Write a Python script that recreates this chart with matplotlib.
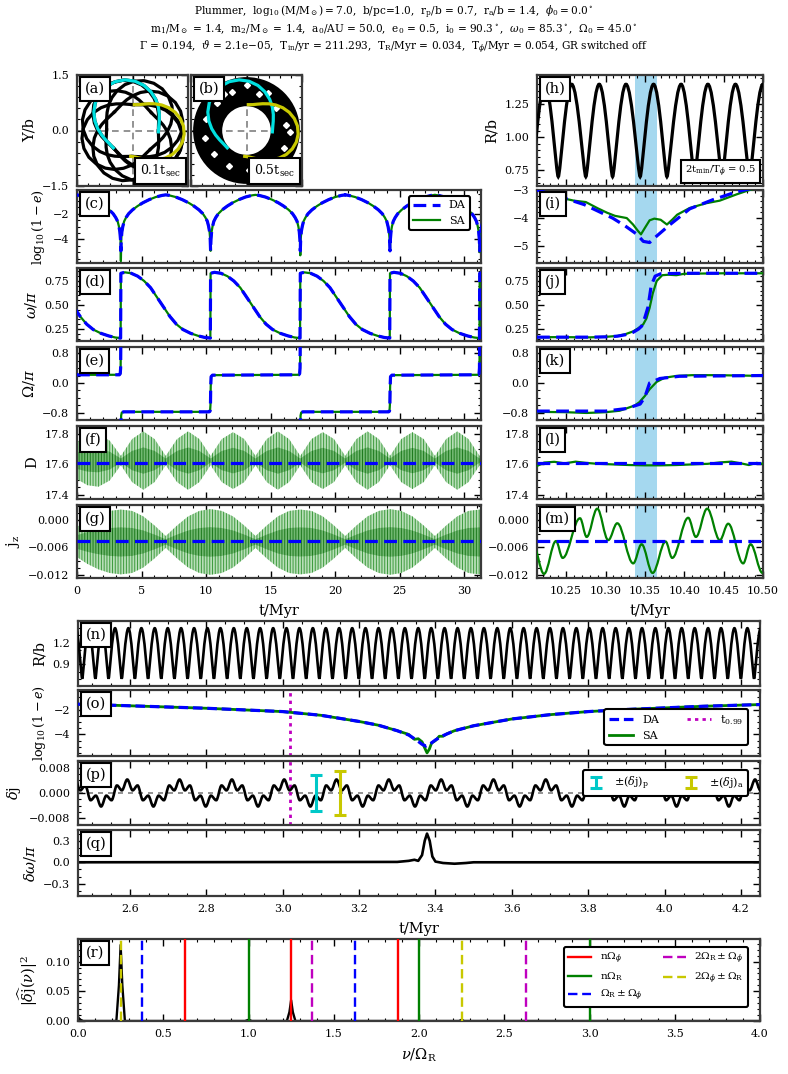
import numpy as np
import matplotlib
matplotlib.use("Agg")
import matplotlib.pyplot as plt
from matplotlib.path import Path
from matplotlib.patches import PathPatch, Wedge
from matplotlib.projections.polar import PolarAxes
from matplotlib.ticker import FixedLocator, AutoMinorLocator, FuncFormatter

plt.rcParams['font.family'] = ['DejaVu Serif']
plt.rcParams['mathtext.fontset'] = 'dejavuserif'
plt.rcParams['hatch.linewidth'] = 0.7

# ---------------- values ----------------
# (a)/(b): one radial period of the orbit, r(psi) with psi = azimuth past pericentre (deg)
orbit_psi = [0, 11.25, 22.5, 33.75, 45, 56.25, 67.5, 78.75, 90, 101.25, 112.5,
             123.75, 135, 146.25, 157.5, 168.75, 180, 191.25, 202.5, 213.75, 225]
orbit_r = [0.70, 0.717, 0.767, 0.844, 0.942, 1.05, 1.158, 1.256, 1.333, 1.383, 1.40,
           1.383, 1.333, 1.256, 1.158, 1.05, 0.942, 0.844, 0.767, 0.717, 0.70]
peri_phi_a = [-3.0, 222.4, 447.8, 673.2, 898.6, 1124.0, 1349.4, 1574.8, 1800.2, 2025.6]
cyan_phi0 = -3.0
# yellow arc, azimuth (deg) of each point of the same r-profile, running clockwise
yellow_theta = [86, 77, 68, 59, 50, 41, 32, 23, 14, 5, -4, -13, -22, -31, -40, -49, -58, -67, -76, -85, -94]
r_peri, r_apo = 0.70, 1.40
hole_x = [-0.80, -0.38, 0.33, 0.80, 1.07, 1.00, 0.68, 0.08, -0.48, -0.88, -1.12, -1.10, -0.62, 0.02, 0.58, 1.18]
hole_y = [0.74, 1.04, 0.98, 0.62, 0.15, -0.46, -0.86, -1.06, -0.97, -0.64, -0.20, 0.32, 0.98, 1.22, 1.02, -0.05]

# left column: secular evolution, t in Myr
dip_t = [3.40, 10.35, 17.30, 24.25, 31.20]
dip_da = [-4.9, -4.9, -4.9, -4.9, -4.9]
dip_sa = [-5.7, -4.9, -5.25, -4.9, -5.0]
arch_dt = [0.03, 0.08, 0.15, 0.25, 0.4, 0.6, 0.9, 1.3, 1.7, 2.2, 2.7, 3.2, 3.475]
arch_log1me = [-4.0, -3.4, -3.0, -2.6, -2.3, -2.0, -1.7, -1.4, -1.15, -0.9, -0.7, -0.57, -0.53]

flip_t = [-3.55, 3.40, 10.35, 17.30, 24.25, 31.20]
omega_dt = [0.0, 0.3, 0.8, 1.3, 1.8, 2.3, 2.8, 3.3, 3.8, 4.3, 4.8, 5.4, 6.0, 6.5, 6.93]
omega_val = [0.83, 0.84, 0.83, 0.80, 0.75, 0.68, 0.58, 0.48, 0.38, 0.30, 0.245, 0.205, 0.178, 0.162, 0.155]

node_t = [0.0, 3.28, 3.35, 3.38, 3.40, np.nan, 3.40, 3.42, 3.47, 3.6, 10.25, 10.31, 10.34, 10.36, 10.39, 10.5,
          17.18, 17.25, 17.28, 17.30, np.nan, 17.30, 17.32, 17.37, 17.5, 24.15, 24.21, 24.24, 24.26, 24.29, 24.4,
          31.08, 31.15, 31.18, 31.20]
node_val = [0.22, 0.22, 0.25, 0.40, 1.30, np.nan, -1.30, -0.88, -0.80, -0.78, -0.78, -0.76, -0.60, -0.10, 0.17, 0.21,
            0.22, 0.25, 0.40, 1.30, np.nan, -1.30, -0.88, -0.80, -0.78, -0.78, -0.76, -0.60, -0.10, 0.17, 0.21,
            0.22, 0.25, 0.40, 1.30]

D_da = 17.61
D_sa_mid = 17.625
D_env_t = [0.0, 0.80, 1.66, 2.53, 3.40, 4.27, 5.14, 6.01, 6.88, 7.75, 8.61, 9.48, 10.35, 11.22, 12.09, 12.96,
           13.83, 14.70, 15.56, 16.43, 17.30, 18.17, 19.04, 19.91, 20.78, 21.65, 22.51, 23.38, 24.25, 25.12,
           25.99, 26.86, 27.73, 28.60, 29.46, 30.33, 31.20, 31.30]
D_env_hw = [0.12, 0.16, 0.17, 0.13, 0.03, 0.14, 0.19, 0.14, 0.03, 0.14, 0.19, 0.14, 0.03, 0.14, 0.185, 0.14,
            0.03, 0.14, 0.19, 0.14, 0.03, 0.14, 0.185, 0.14, 0.03, 0.14, 0.19, 0.14, 0.03, 0.14, 0.185, 0.14,
            0.03, 0.14, 0.19, 0.14, 0.03, 0.05]

jz_da = -0.0046
jz_sa_mid = -0.0048
jz_env_t = D_env_t
jz_env_hw = [0.0033, 0.0048, 0.0060, 0.0068, 0.0071, 0.0068, 0.0056, 0.0036, 0.0013, 0.0036, 0.0056, 0.0068,
             0.0072, 0.0068, 0.0056, 0.0036, 0.0013, 0.0036, 0.0056, 0.0068, 0.0071, 0.0068, 0.0056, 0.0036,
             0.0013, 0.0036, 0.0056, 0.0068, 0.0072, 0.0068, 0.0056, 0.0036, 0.0013, 0.0036, 0.0056, 0.0068,
             0.0071, 0.0070]

# right column: zoom on the eccentricity peak
band = (10.337, 10.365)
h_ext_t = [10.206, 10.223, 10.240, 10.257, 10.275, 10.292, 10.309, 10.326, 10.344, 10.361, 10.378,
           10.396, 10.413, 10.430, 10.448, 10.465, 10.483, 10.500, 10.517]
h_ext_R = [0.70, 1.40, 0.70, 1.40, 0.70, 1.40, 0.70, 1.40, 0.70, 1.40, 0.70,
           1.40, 0.70, 1.40, 0.70, 1.40, 0.70, 1.40, 0.70]

i_t_da = [10.213, 10.24, 10.273, 10.309, 10.325, 10.340, 10.348, 10.356, 10.365, 10.382, 10.407, 10.436, 10.467, 10.50]
i_da = [-3.0, -3.22, -3.52, -4.0, -4.28, -4.58, -4.83, -4.87, -4.64, -4.23, -3.67, -3.35, -3.06, -2.85]
i_t_sa = [10.213, 10.242, 10.26, 10.275, 10.29, 10.302, 10.312, 10.327, 10.335, 10.341, 10.345, 10.350,
          10.356, 10.362, 10.370, 10.378, 10.385, 10.391, 10.407, 10.428, 10.445, 10.467, 10.485, 10.50]
i_sa = [-3.0, -3.27, -3.38, -3.43, -3.65, -3.81, -3.92, -4.0, -4.23, -4.45, -4.58, -4.35,
        -4.08, -4.02, -4.06, -4.23, -4.05, -3.88, -3.64, -3.47, -3.38, -3.15, -2.98, -2.9]

j_t_da = [10.213, 10.25, 10.28, 10.30, 10.315, 10.325, 10.335, 10.342, 10.346, 10.350, 10.354, 10.358,
          10.363, 10.370, 10.40, 10.45, 10.50]
j_da = [0.165, 0.165, 0.165, 0.168, 0.175, 0.19, 0.215, 0.25, 0.28, 0.37, 0.48, 0.70, 0.80, 0.825, 0.83, 0.83, 0.83]
j_t_sa = [10.213, 10.25, 10.28, 10.30, 10.315, 10.325, 10.335, 10.342, 10.348, 10.352, 10.356, 10.360,
          10.365, 10.372, 10.38, 10.39, 10.40, 10.45, 10.50]
j_sa = [0.165, 0.165, 0.163, 0.168, 0.178, 0.195, 0.225, 0.26, 0.30, 0.36, 0.47, 0.62, 0.75, 0.81, 0.815,
        0.81, 0.825, 0.83, 0.83]

k_t_da = [10.213, 10.30, 10.327, 10.344, 10.350, 10.356, 10.369, 10.394, 10.50]
k_da = [-0.76, -0.76, -0.69, -0.57, -0.38, 0.0, 0.12, 0.18, 0.20]
k_t_sa = [10.213, 10.25, 10.276, 10.30, 10.318, 10.337, 10.343, 10.350, 10.356, 10.365, 10.375, 10.39,
          10.41, 10.44, 10.50]
k_sa = [-0.78, -0.79, -0.81, -0.79, -0.75, -0.61, -0.52, -0.35, -0.17, 0.03, 0.14, 0.19, 0.21, 0.21, 0.19]

l_t_sa = [10.213, 10.222, 10.235, 10.248, 10.262, 10.275, 10.29, 10.31, 10.33, 10.35, 10.37, 10.39, 10.41,
          10.43, 10.445, 10.46, 10.472, 10.482, 10.492, 10.50]
l_sa = [17.59, 17.612, 17.617, 17.607, 17.618, 17.61, 17.604, 17.60, 17.596, 17.594, 17.594, 17.596, 17.60,
        17.604, 17.613, 17.618, 17.607, 17.596, 17.61, 17.604]

m_ext_t = [10.2078, 10.2219, 10.2371, 10.2456, 10.2676, 10.2761, 10.2895, 10.3035, 10.3149, 10.3352, 10.3458,
           10.3598, 10.3763, 10.3847, 10.4050, 10.4148, 10.4291, 10.4452, 10.4558, 10.4748, 10.4842, 10.4994]
m_ext_jz = [-0.0053, -0.0118, -0.0046, -0.0083, 0.0004, -0.0037, 0.0025, -0.0044, -0.0007, -0.0095, -0.0053,
            -0.0116, -0.0047, -0.0083, 0.0005, -0.0037, 0.0025, -0.0044, -0.0008, -0.0095, -0.0053, -0.0116]

# lower block
n_trough_t = [2.4405, 2.475, 2.5095, 2.544, 2.5785, 2.613, 2.6475, 2.682, 2.7165, 2.751, 2.7855, 2.820, 2.8545,
              2.889, 2.9235, 2.958, 2.9925, 3.027, 3.0615, 3.096, 3.1305, 3.165, 3.1995, 3.234, 3.2685, 3.303,
              3.3375, 3.372, 3.4065, 3.441, 3.4755, 3.510, 3.5445, 3.579, 3.6135, 3.648, 3.6825, 3.717, 3.7515,
              3.786, 3.8205, 3.855, 3.8895, 3.924, 3.9585, 3.993, 4.0275, 4.062, 4.0965, 4.131, 4.1655, 4.200,
              4.2345, 4.269]
n_peak_t = [2.458, 2.492, 2.527, 2.561, 2.596, 2.630, 2.665, 2.699, 2.734, 2.768, 2.803, 2.837, 2.872, 2.906,
            2.941, 2.975, 3.010, 3.044, 3.079, 3.113, 3.148, 3.182, 3.217, 3.251, 3.286, 3.320, 3.355, 3.389,
            3.424, 3.458, 3.493, 3.527, 3.562, 3.596, 3.631, 3.665, 3.700, 3.734, 3.769, 3.803, 3.838, 3.872,
            3.907, 3.941, 3.976, 4.010, 4.045, 4.079, 4.114, 4.148, 4.183, 4.217, 4.252]
R_trough, R_peak = 0.70, 1.40

o_t_da = [2.464, 2.6, 2.8, 3.0, 3.1, 3.2, 3.25, 3.3, 3.33, 3.35, 3.365, 3.375, 3.385, 3.40, 3.42, 3.45, 3.5,
          3.6, 3.7, 3.8, 3.9, 4.0, 4.1, 4.25]
o_da = [-1.55, -1.68, -1.88, -2.15, -2.45, -2.95, -3.25, -3.7, -4.05, -4.45, -4.8, -4.95, -4.8, -4.45, -4.1,
        -3.7, -3.3, -2.75, -2.4, -2.15, -1.98, -1.85, -1.72, -1.58]
o_t_sa = [2.464, 2.6, 2.8, 3.0, 3.1, 3.2, 3.25, 3.3, 3.33, 3.345, 3.355, 3.365, 3.372, 3.378, 3.384, 3.39,
          3.40, 3.41, 3.42, 3.43, 3.45, 3.5, 3.6, 3.7, 3.8, 3.9, 4.0, 4.1, 4.25]
o_sa = [-1.55, -1.68, -1.88, -2.15, -2.45, -2.95, -3.25, -3.7, -4.0, -4.4, -4.35, -4.6, -5.1, -5.5, -5.2,
        -4.7, -4.5, -4.15, -4.15, -3.95, -3.7, -3.3, -2.75, -2.4, -2.15, -1.98, -1.85, -1.72, -1.58]
t099 = 3.02

dj_starts = [2.456, 2.593, 2.730, 2.867, 3.004, 3.141, 3.278, 3.415, 3.552, 3.689, 3.826, 3.963, 4.100, 4.237]
dj_period = 0.137
dj_phase = [0.0, 0.103, 0.197, 0.300, 0.400, 0.500, 0.600, 0.700, 0.803, 0.897]
dj_val = [0.0043, 0.00085, 0.0024, -0.0023, -0.00085, -0.0043, -0.00085, -0.0023, 0.0024, 0.00085]
dj_p_t, dj_p = 3.087, 0.0058
dj_a_t, dj_a = 3.150, 0.0070

q_t = [2.464, 3.30, 3.33, 3.345, 3.355, 3.365, 3.372, 3.378, 3.385, 3.392, 3.40, 3.42, 3.45, 3.48, 3.50, 4.25]
q_dw = [0.0, 0.005, 0.02, 0.035, 0.02, 0.10, 0.30, 0.40, 0.30, 0.08, 0.01, -0.01, -0.02, -0.01, 0.0, 0.0]

r_nu = [0.0, 0.015, 0.03, 0.225, 0.24, 0.25, 0.26, 0.275, 0.98, 1.0, 1.02, 1.225, 1.24, 1.25, 1.26, 1.275,
        2.235, 2.25, 2.265, 4.0]
r_pow = [0.006, 0.002, 0.0, 0.0, 0.06, 0.128, 0.06, 0.0, 0.0, 0.002, 0.0, 0.0, 0.015, 0.035, 0.015, 0.0,
         0.0, 0.002, 0.0, 0.0]
n_omega_phi = [0.626, 1.252, 1.878]
n_omega_R = [1.0, 2.0, 3.0]
R_pm_phi = [0.374, 1.626]
twoR_pm_phi = [1.374, 2.626]
twophi_pm_R = [0.252, 2.252]

title_lines = [
    r"Plummer,  $\log_{10}(\mathrm{M/M}_\odot) = 7.0$,  b/pc=1.0,  r$_\mathrm{p}$/b = 0.7,  r$_\mathrm{a}$/b = 1.4,  $\phi_0 = 0.0^\circ$",
    r"m$_1$/M$_\odot$ = 1.4,  m$_2$/M$_\odot$ = 1.4,  a$_0$/AU = 50.0,  e$_0$ = 0.5,  i$_0$ = 90.3$^\circ$,  $\omega_0$ = 85.3$^\circ$,  $\Omega_0$ = 45.0$^\circ$",
    r"$\Gamma$ = 0.194,  $\vartheta$ = 2.1e$-$05,  T$_\mathrm{in}$/yr = 211.293,  T$_\mathrm{R}$/Myr = 0.034,  T$_\phi$/Myr = 0.054, GR switched off",
]

# ---------------- helpers ----------------
W, H = 788, 1074
BLUE, GREEN = '#0000ff', '#008000'
DA_KW = dict(color=BLUE, lw=2.3, ls=(0, (4, 2)), zorder=4)
SA_KW = dict(color=GREEN, lw=1.6, zorder=3)
LAB = 10.5
fig = plt.figure(figsize=(W / 100, H / 100), dpi=100)


def px_axes(x0, y0, x1, y1):
    return fig.add_axes([x0 / W, 1 - y1 / H, (x1 - x0) / W, (y1 - y0) / H])


def fmt(f):
    return FuncFormatter(lambda x, p: (f % x).replace('-', '\u2212'))


def style(ax, xlim, xt, xf, xm, ylim, yt, yf, ym, xlab=False, ylab=True):
    ax.set_xlim(*xlim)
    ax.set_ylim(*ylim)
    ax.xaxis.set_major_locator(FixedLocator(xt))
    ax.yaxis.set_major_locator(FixedLocator(yt))
    ax.xaxis.set_major_formatter(fmt(xf))
    ax.yaxis.set_major_formatter(fmt(yf))
    ax.xaxis.set_minor_locator(AutoMinorLocator(xm))
    ax.yaxis.set_minor_locator(AutoMinorLocator(ym))
    ax.tick_params(which='both', direction='in', top=True, right=True, labelsize=8, pad=5.5)
    ax.tick_params(which='major', length=5, width=1.0)
    ax.tick_params(which='minor', length=2.5, width=0.8)
    ax.tick_params(labelbottom=xlab, labelleft=ylab)
    for sp in ax.spines.values():
        sp.set_linewidth(1.6)
        sp.set_color('#3a3a3a')


def tag(ax, s):
    ax.annotate(s, xy=(0, 1), xycoords='axes fraction', xytext=(5.5, -5.0), textcoords='offset points',
                ha='left', va='top', fontsize=10.5, zorder=10,
                bbox=dict(boxstyle='square,pad=0.33', fc='white', ec='black', lw=1.5))


def corner_note(ax, s, size):
    ax.annotate(s, xy=(1, 0), xycoords='axes fraction', xytext=(-5.0, 5.0), textcoords='offset points',
                ha='right', va='bottom', fontsize=size, zorder=10,
                bbox=dict(boxstyle='square,pad=0.4', fc='white', ec='black', lw=1.5))


def smooth_curve(ax, ts, vs, hs, **kw):
    # Bezier segments through the read extrema, flat tangent at every extremum
    verts = [(ts[0], vs[0])]
    codes = [Path.MOVETO]
    for i in range(len(ts) - 1):
        d = ts[i + 1] - ts[i]
        verts += [(ts[i] + hs[i] * d, vs[i]), (ts[i + 1] - hs[i + 1] * d, vs[i + 1]), (ts[i + 1], vs[i + 1])]
        codes += [Path.CURVE4] * 3
    ax.add_patch(PathPatch(Path(verts, codes), fill=False, **kw))


def arches(dips, dvals, dt, vals):
    t, v = [], []
    for d, dv in zip(dips, dvals):
        t += [d - x for x in dt[::-1]] + [d] + [d + x for x in dt]
        v += vals[::-1] + [dv] + vals
    return t, v


def repeat_from(starts, dt, vals):
    t, v = [], []
    for s in starts:
        t += [s + x for x in dt]
        v += list(vals)
    return t, v


def legend_box(ax, handles, **kw):
    leg = ax.legend(handles=handles, borderaxespad=0, edgecolor='black', framealpha=1, **kw)
    leg.get_frame().set_linewidth(1.5)


# ---------------- title ----------------
for k, line in enumerate(title_lines):
    fig.text(0.5, 1 - (12 + 17.5 * k) / H, line, ha='center', va='center', fontsize=7.6)

# ---------------- (a), (b) orbits ----------------
for ax_i, (x0, x1, lab, note) in enumerate([(77, 188, '(a)', r'0.1t$_\mathrm{sec}$'),
                                            (191, 302, '(b)', r'0.5t$_\mathrm{sec}$')]):
    ax = px_axes(x0, 75, x1, 186)
    ptr = PolarAxes.PolarTransform(apply_theta_transforms=False) + ax.transData
    ax.axhline(0, color='grey', lw=1.2, ls=(0, (4, 3)), zorder=1)
    ax.axvline(0, color='grey', lw=1.2, ls=(0, (4, 3)), zorder=1)
    if ax_i == 0:
        for phi in peri_phi_a:
            ax.plot(np.deg2rad([phi + p for p in orbit_psi]), orbit_r, color='k', lw=2.3, transform=ptr, zorder=2)
    else:
        ax.add_patch(Wedge((0, 0), r_apo, 0, 360, width=r_apo - r_peri, fc='k', ec='k', lw=2.3, zorder=2))
        ax.plot(hole_x, hole_y, ls='none', marker='D', ms=3.0, mfc='white', mec='white', zorder=3)
    ax.plot(np.deg2rad([cyan_phi0 + p for p in orbit_psi]), orbit_r, color='#00e0e0', lw=2.3, transform=ptr, zorder=4)
    ax.plot(np.deg2rad(yellow_theta), orbit_r, color='#c8c800', lw=2.3, transform=ptr, zorder=4)
    style(ax, (-1.5, 1.5), [-1.5, 0, 1.5], '%.1f', 5, (-1.5, 1.5), [-1.5, 0, 1.5], '%.1f', 5,
          xlab=False, ylab=(ax_i == 0))
    if ax_i == 0:
        ax.set_ylabel('Y/b', fontsize=LAB)
    tag(ax, lab)
    corner_note(ax, note, 9)

# ---------------- left column ----------------
LX = (77, 481)
rows = [(190, 263), (268, 341), (347, 420), (426, 499), (505, 578)]
left_xlim = (0, 31.3)
left_xt = [0, 5, 10, 15, 20, 25, 30]
right_xlim = (10.213, 10.50)
right_xt = [10.25, 10.30, 10.35, 10.40, 10.45, 10.50]

# (c)
ax = px_axes(LX[0], rows[0][0], LX[1], rows[0][1])
tc, vc_sa = arches(dip_t, dip_sa, arch_dt, arch_log1me)
_, vc_da = arches(dip_t, dip_da, arch_dt, arch_log1me)
h_sa, = ax.plot(tc, vc_sa, label='SA', **SA_KW)
h_da, = ax.plot(tc, vc_da, label='DA', **DA_KW)
style(ax, left_xlim, left_xt, '%d', 5, (-5.85, -0.15), [-4, -2], '%d', 4)
ax.set_ylabel(r'$\log_{10}(1-e)$', fontsize=9.2)
tag(ax, '(c)')
legend_box(ax, [h_da, h_sa], loc='upper right', bbox_to_anchor=(1 - 11 / 404, 1 - 6 / 73), fontsize=8,
           handlelength=2.4)

# (d)
ax = px_axes(LX[0], rows[1][0], LX[1], rows[1][1])
td, vd = repeat_from(flip_t, omega_dt, omega_val)
ax.plot(td, vd, **SA_KW)
ax.plot(td, vd, **DA_KW)
style(ax, left_xlim, left_xt, '%d', 5, (0.125, 0.885), [0.25, 0.5, 0.75], '%.2f', 5)
ax.set_ylabel(r'$\omega/\pi$', fontsize=LAB)
tag(ax, '(d)')

# (e)
ax = px_axes(LX[0], rows[2][0], LX[1], rows[2][1])
ax.plot(node_t, node_val, **SA_KW)
ax.plot(node_t, node_val, **DA_KW)
style(ax, left_xlim, left_xt, '%d', 5, (-1.0, 0.97), [-0.8, 0, 0.8], '%.1f', 4)
ax.set_ylabel(r'$\Omega/\pi$', fontsize=LAB)
tag(ax, '(e)')


def envelope(ax, t, mid, hw):
    hw = np.array(hw)
    ax.fill_between(t, mid - hw, mid + hw, facecolor='#b8dfb8', edgecolor='#3d9a3d', hatch='||||||',
                    linewidth=0, zorder=2)
    ax.fill_between(t, mid - 0.45 * hw, mid + 0.45 * hw, facecolor='#72b872', edgecolor='#1d7a1d',
                    hatch='||||||', linewidth=0, zorder=2)


# (f)
ax = px_axes(LX[0], rows[3][0], LX[1], rows[3][1])
envelope(ax, D_env_t, D_sa_mid, D_env_hw)
ax.axhline(D_da, **DA_KW)
style(ax, left_xlim, left_xt, '%d', 5, (17.375, 17.85), [17.4, 17.6, 17.8], '%.1f', 4)
ax.set_ylabel('D', fontsize=LAB)
tag(ax, '(f)')

# (g)
ax = px_axes(LX[0], rows[4][0], LX[1], rows[4][1])
envelope(ax, jz_env_t, jz_sa_mid, jz_env_hw)
ax.axhline(jz_da, **DA_KW)
style(ax, left_xlim, left_xt, '%d', 5, (-0.0127, 0.0033), [-0.012, -0.006, 0.0], '%.3f', 4, xlab=True)
ax.set_ylabel(r'$\mathrm{j_z}$', fontsize=LAB)
ax.set_xlabel('t/Myr', fontsize=LAB, labelpad=6)
tag(ax, '(g)')

# ---------------- right column ----------------
RX = (537, 763)

# (h)
ax = px_axes(RX[0], 75, RX[1], 186)
ax.axvspan(*band, color='#a5d8ef', lw=0, zorder=1)
smooth_curve(ax, h_ext_t, h_ext_R, [0.15 if r < 1 else 0.42 for r in h_ext_R], ec='k', lw=2.3, zorder=3)
style(ax, right_xlim, right_xt, '%.2f', 5, (0.63, 1.47), [0.75, 1.0, 1.25], '%.2f', 5)
ax.set_ylabel('R/b', fontsize=LAB)
tag(ax, '(h)')
corner_note(ax, r'2t$_\mathrm{min}$/T$_\phi$ = 0.5', 7.2)

panels = [
    ('(i)', i_t_da, i_da, i_t_sa, i_sa, (-5.6, -3.0), [-5, -4, -3], '%d', 5),
    ('(j)', j_t_da, j_da, j_t_sa, j_sa, (0.125, 0.885), [0.25, 0.5, 0.75], '%.2f', 5),
    ('(k)', k_t_da, k_da, k_t_sa, k_sa, (-1.0, 0.97), [-0.8, 0, 0.8], '%.1f', 4),
]
for (lab, tda, vda, tsa, vsa, ylim, yt, yf, ym), (y0, y1) in zip(panels, rows[:3]):
    ax = px_axes(RX[0], y0, RX[1], y1)
    ax.axvspan(*band, color='#a5d8ef', lw=0, zorder=1)
    ax.plot(tsa, vsa, **SA_KW)
    ax.plot(tda, vda, **DA_KW)
    style(ax, right_xlim, right_xt, '%.2f', 5, ylim, yt, yf, ym)
    tag(ax, lab)

# (l)
ax = px_axes(RX[0], rows[3][0], RX[1], rows[3][1])
ax.axvspan(*band, color='#a5d8ef', lw=0, zorder=1)
ax.plot(l_t_sa, l_sa, **SA_KW)
ax.axhline(D_da, **DA_KW)
style(ax, right_xlim, right_xt, '%.2f', 5, (17.375, 17.85), [17.4, 17.6, 17.8], '%.1f', 4)
tag(ax, '(l)')

# (m)
ax = px_axes(RX[0], rows[4][0], RX[1], rows[4][1])
ax.axvspan(*band, color='#a5d8ef', lw=0, zorder=1)
smooth_curve(ax, m_ext_t, m_ext_jz, [0.36] * len(m_ext_t), ec=GREEN, lw=1.6, zorder=3)
ax.axhline(jz_da, **DA_KW)
style(ax, right_xlim, right_xt, '%.2f', 5, (-0.0127, 0.0033), [-0.012, -0.006, 0.0], '%.3f', 4, xlab=True)
ax.set_xlabel('t/Myr', fontsize=LAB, labelpad=6)
tag(ax, '(m)')

# ---------------- lower block ----------------
BX = (78, 760)
low_xlim = (2.464, 4.25)
low_xt = [2.6, 2.8, 3.0, 3.2, 3.4, 3.6, 3.8, 4.0, 4.2]

# (n)
ax = px_axes(BX[0], 621, BX[1], 686)
n_t, n_R, n_h = [], [], []
for k in range(len(n_peak_t)):
    n_t += [n_trough_t[k], n_peak_t[k]]
    n_R += [R_trough, R_peak]
    n_h += [0.15, 0.42]
n_t.append(n_trough_t[-1])
n_R.append(R_trough)
n_h.append(0.15)
smooth_curve(ax, n_t, n_R, n_h, ec='k', lw=1.9, zorder=3)
style(ax, low_xlim, low_xt, '%.1f', 4, (0.6, 1.5), [0.9, 1.2], '%.1f', 3)
ax.set_ylabel('R/b', fontsize=LAB)
tag(ax, '(n)')

# (o)
ax = px_axes(BX[0], 690, BX[1], 756)
h_sa, = ax.plot(o_t_sa, o_sa, label='SA', color=GREEN, lw=2.0, zorder=3)
h_da, = ax.plot(o_t_da, o_da, label='DA', color=BLUE, lw=2.3, ls=(0, (3, 1.5)), zorder=4)
h_t99 = ax.axvline(t099, color='m', lw=2, ls=(0, (1.2, 1.5)), label=r'$\mathrm{t}_{0.99}$', zorder=2)
style(ax, low_xlim, low_xt, '%.1f', 4, (-5.75, -0.4), [-4, -2], '%d', 4)
ax.set_ylabel(r'$\log_{10}(1-e)$', fontsize=9.2)
tag(ax, '(o)')
legend_box(ax, [h_da, h_sa, h_t99], ncol=2, loc='lower right', bbox_to_anchor=(1 - 12 / 682, 11 / 66),
           fontsize=8, columnspacing=2.5, handlelength=2.2)

# (p)
ax = px_axes(BX[0], 761, BX[1], 825)
p_t, p_v = repeat_from(dj_starts, [dj_period * f for f in dj_phase], dj_val)
ax.axhline(0, color='grey', lw=1.2, ls=(0, (3, 3)), zorder=1)
ax.axvline(t099, color='m', lw=2, ls=(0, (1.2, 1.5)), zorder=2)
smooth_curve(ax, p_t, p_v, [0.36] * len(p_t), ec='k', lw=1.9, zorder=3)
eb_p = ax.errorbar([dj_p_t], [0], yerr=[[dj_p], [dj_p]], fmt='none', ecolor='#00c8c8', elinewidth=2.2,
                   capsize=4.5, capthick=2.2, label=r'$\pm(\delta \mathrm{j})_\mathrm{p}$', zorder=5)
eb_a = ax.errorbar([dj_a_t], [0], yerr=[[dj_a], [dj_a]], fmt='none', ecolor='#c8c800', elinewidth=2.2,
                   capsize=4.5, capthick=2.2, label=r'$\pm(\delta \mathrm{j})_\mathrm{a}$', zorder=5)
style(ax, low_xlim, low_xt, '%.1f', 4, (-0.0102, 0.0102), [-0.008, 0.0, 0.008], '%.3f', 4)
ax.set_ylabel(r'$\delta\mathrm{j}$', fontsize=LAB)
tag(ax, '(p)')
legend_box(ax, [eb_p, eb_a], ncol=2, loc='upper right', bbox_to_anchor=(1 - 12 / 682, 1 - 9 / 64),
           fontsize=8, columnspacing=3.0, handlelength=1.6)

# (q)
ax = px_axes(BX[0], 830, BX[1], 896)
ax.plot(q_t, q_dw, color='k', lw=1.9)
style(ax, low_xlim, low_xt, '%.1f', 4, (-0.47, 0.45), [-0.3, 0.0, 0.3], '%.1f', 3, xlab=True)
ax.set_ylabel(r'$\delta\omega/\pi$', fontsize=LAB)
ax.set_xlabel('t/Myr', fontsize=LAB, labelpad=6)
tag(ax, '(q)')

# (r)
ax = px_axes(BX[0], 939, BX[1], 1021)
ax.plot(r_nu, r_pow, color='k', lw=1.7, zorder=2)
groups = [
    (n_omega_phi, 'r', '-', r'n$\Omega_\phi$'),
    (n_omega_R, GREEN, '-', r'n$\Omega_\mathrm{R}$'),
    (R_pm_phi, BLUE, (0, (4, 2)), r'$\Omega_\mathrm{R}\pm\Omega_\phi$'),
    (twoR_pm_phi, 'm', (0, (4, 2)), r'2$\Omega_\mathrm{R}\pm\Omega_\phi$'),
    (twophi_pm_R, '#c8c800', (0, (4, 2)), r'2$\Omega_\phi\pm\Omega_\mathrm{R}$'),
]
handles = []
for xs, c, ls, lab in groups:
    for j, x in enumerate(xs):
        ln = ax.axvline(x, color=c, ls=ls, lw=1.7, zorder=3, label=lab if j == 0 else None)
        if j == 0:
            handles.append(ln)
style(ax, (0, 4), [0, 0.5, 1, 1.5, 2, 2.5, 3, 3.5, 4], '%.1f', 5, (0, 0.138), [0, 0.05, 0.10], '%.2f', 5,
      xlab=True)
ax.set_ylabel(r'$|\widehat{\delta \mathrm{j}}(\nu)|^2$', fontsize=LAB)
ax.set_xlabel(r'$\nu/\Omega_\mathrm{R}$', fontsize=LAB, labelpad=6)
tag(ax, '(r)')
legend_box(ax, handles, ncol=2, loc='upper right', bbox_to_anchor=(1 - 12 / 682, 1 - 8 / 82),
           fontsize=7.5, columnspacing=2.0, handlelength=2.2, labelspacing=0.45)

fig.savefig('out.png', dpi=100)
